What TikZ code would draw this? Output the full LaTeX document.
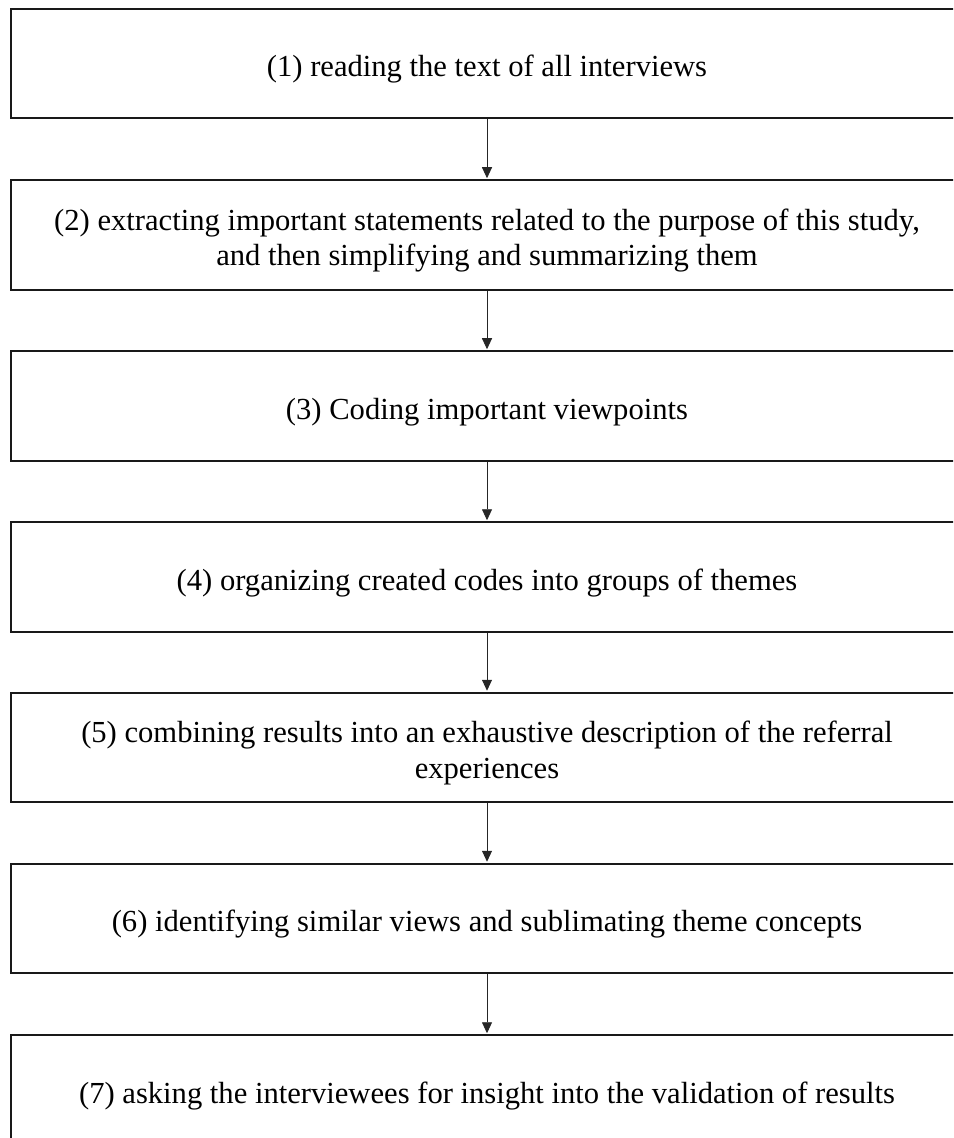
\documentclass[tikz,border=0pt]{standalone}
\usepackage{fontspec}
\setmainfont{Liberation Serif}
\usetikzlibrary{arrows.meta}
\newcommand{\steptext}[1]{\raisebox{-3pt}[\height][\depth]{\begin{tabular}{@{}c@{}}#1\end{tabular}}}
\tikzset{
  stepbox/.style={draw=black!90, line width=1pt, minimum width=476pt, minimum height=54.75pt,
    inner sep=0pt, font=\fontsize{15.3pt}{17.6pt}\selectfont},
  flow/.style={draw=black!85, line width=0.45pt, -{Triangle[length=5.5pt,width=5pt]}, shorten >=0.5pt}
}
\begin{document}
\begin{tikzpicture}[x=0.5pt,y=-0.5pt]
\useasboundingbox (0,0) rectangle (953,1138);
\clip (0,0) rectangle (953,1138);
\node[stepbox] (b1) at (487,63.5) {\steptext{(1) reading the text of all interviews}};
\node[stepbox] (b2) at (487,235) {\steptext{(2) extracting important statements related to the purpose of this study,\\and then simplifying and summarizing them}};
\node[stepbox] (b3) at (487,406) {\steptext{(3) Coding important viewpoints}};
\node[stepbox] (b4) at (487,577) {\steptext{(4) organizing created codes into groups of themes}};
\node[stepbox] (b5) at (487,747.5) {\steptext{(5) combining results into an exhaustive description of the referral\\experiences}};
\node[stepbox] (b6) at (487,918.5) {\steptext{(6) identifying similar views and sublimating theme concepts}};
\node[stepbox] (b7) at (487,1090) {\steptext{(7) asking the interviewees for insight into the validation of results}};
\draw[flow] (b1.south) -- (b2.north);
\draw[flow] (b2.south) -- (b3.north);
\draw[flow] (b3.south) -- (b4.north);
\draw[flow] (b4.south) -- (b5.north);
\draw[flow] (b5.south) -- (b6.north);
\draw[flow] (b6.south) -- (b7.north);
\end{tikzpicture}
\end{document}
